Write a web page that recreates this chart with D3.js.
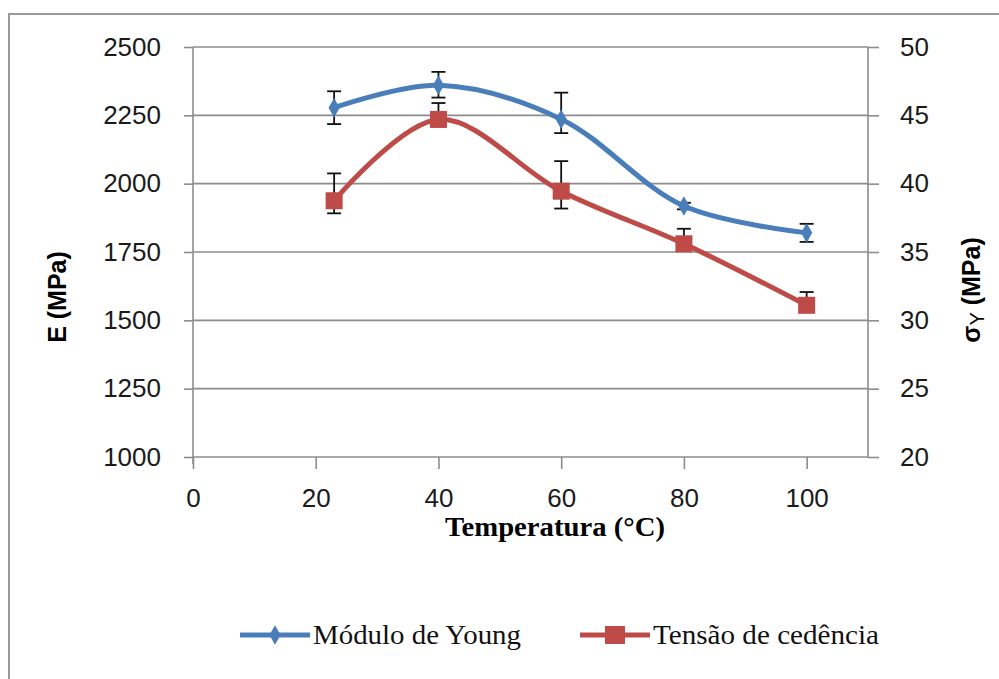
<!DOCTYPE html>
<html>
<head>
<meta charset="utf-8">
<script src="https://cdn.jsdelivr.net/npm/d3@7"></script>
<style>
  body { margin: 0; background: #fff; }
  svg { display: block; }
</style>
</head>
<body>
<div id="chart"></div>
<script>
// Temperature vs Young's modulus and yield stress

const temps = [23, 40, 60, 80, 100];
const youngE = [2278, 2360, 2236, 1918, 1820];       // MPa (left axis)
const youngErrUp = [60, 49, 97, 12, 33];
const youngErrDown = [60, 45, 51, 12, 33];
const yieldS = [38.75, 44.7, 39.45, 35.6, 31.1];     // MPa (right axis)
const yieldErrUp = [2.0, 1.2, 2.2, 1.1, 0.97];
const yieldErrDown = [0.92, 0.5, 1.27, 0.5, 0.5];

const xTicks = [0, 20, 40, 60, 80, 100];
const leftTicks = [1000, 1250, 1500, 1750, 2000, 2250, 2500];
const rightTicks = [20, 25, 30, 35, 40, 45, 50];
const seriesNames = ["Módulo de Young", "Tensão de cedência"];

const width = 999, height = 679;
const plot = { left: 193, right: 868, top: 47, bottom: 457 };

const blue = "#4a7ebb", red = "#be4b48", gridCol = "#8c8c8c";

const svg = d3.select("#chart")
  .append("svg")
    .attr("width", width)
    .attr("height", height);

// outer frame (runs off the right and bottom)
svg.append("rect")
  .attr("x", 9).attr("y", 14)
  .attr("width", 1100).attr("height", 800)
  .attr("fill", "none")
  .attr("stroke", "#9a9a9a")
  .attr("stroke-width", 2);

const x = d3.scaleLinear().domain([0, 110]).range([plot.left, plot.right]);
const yL = d3.scaleLinear().domain([1000, 2500]).range([plot.bottom, plot.top]);
const yR = d3.scaleLinear().domain([20, 50]).range([plot.bottom, plot.top]);

// gridlines
svg.append("g")
  .selectAll("line")
  .data(leftTicks.slice(1))
  .enter()
  .append("line")
    .attr("x1", plot.left).attr("x2", plot.right)
    .attr("y1", d => yL(d)).attr("y2", d => yL(d))
    .attr("stroke", gridCol)
    .attr("stroke-width", 1.6);

const tickFont = "'Liberation Sans', Arial, sans-serif";
const serif = "'Liberation Serif', 'Times New Roman', serif";

// Left axis
const leftAxis = svg.append("g")
  .attr("transform", `translate(${plot.left},0)`)
  .call(d3.axisLeft(yL).tickValues(leftTicks).tickSize(9).tickPadding(23).tickFormat(d3.format("d")));

// Right axis
const rightAxis = svg.append("g")
  .attr("transform", `translate(${plot.right},0)`)
  .call(d3.axisRight(yR).tickValues(rightTicks).tickSize(11).tickPadding(21).tickFormat(d3.format("d")));

// Bottom axis
const bottomAxis = svg.append("g")
  .attr("transform", `translate(0,${plot.bottom})`)
  .call(d3.axisBottom(x).tickValues(xTicks).tickSize(12).tickPadding(20).tickFormat(d3.format("d")));

[leftAxis, rightAxis, bottomAxis].forEach(g => {
  g.select(".domain").attr("stroke", gridCol).attr("stroke-width", 1.6);
  g.selectAll(".tick line").attr("stroke", gridCol).attr("stroke-width", 1.6);
  g.selectAll(".tick text")
    .attr("fill", "#1a1a1a")
    .style("font-family", tickFont)
    .style("font-size", "26px");
});
// domain lines without the outer tick ends
leftAxis.select(".domain").attr("d", `M0,${plot.top}V${plot.bottom + 7}`);
rightAxis.select(".domain").attr("d", `M0,${plot.top}V${plot.bottom}`);
bottomAxis.select(".domain").attr("d", `M${plot.left},0H${plot.right}`);

// Axis titles
svg.append("text")
  .attr("transform", `translate(66,${(plot.top + plot.bottom) / 2 + 45}) rotate(-90)`)
  .attr("text-anchor", "middle")
  .style("font-family", tickFont)
  .style("font-weight", "bold")
  .style("font-size", "25px")
  .text("E (MPa)");

const rt = svg.append("text")
  .attr("transform", `translate(980,${(plot.top + plot.bottom) / 2 + 38}) rotate(-90)`)
  .attr("text-anchor", "middle")
  .style("font-family", tickFont)
  .style("font-weight", "bold")
  .style("font-size", "25px");
rt.append("tspan").text("σ");
rt.append("tspan").attr("dy", 4).style("font-size", "20px").style("font-weight", "normal").text("Y");
rt.append("tspan").attr("dy", -4).text(" (MPa)");

svg.append("text")
  .attr("x", 555)
  .attr("y", 536)
  .attr("text-anchor", "middle")
  .attr("textLength", 220)
  .attr("lengthAdjust", "spacingAndGlyphs")
  .style("font-family", serif)
  .style("font-weight", "bold")
  .style("font-size", "28px")
  .text("Temperatura (°C)");

// Data series
const youngData = temps.map((t, i) => ({ t, v: youngE[i], up: youngErrUp[i], dn: youngErrDown[i] }));
const yieldData = temps.map((t, i) => ({ t, v: yieldS[i], up: yieldErrUp[i], dn: yieldErrDown[i] }));

function errorBars(data, y) {
  const g = svg.append("g").attr("stroke", "#111").attr("stroke-width", 1.8);
  data.forEach(d => {
    const xx = x(d.t), y0 = y(d.v - d.dn), y1 = y(d.v + d.up);
    g.append("line").attr("x1", xx).attr("x2", xx).attr("y1", y0).attr("y2", y1);
    g.append("line").attr("x1", xx - 7).attr("x2", xx + 7).attr("y1", y0).attr("y2", y0);
    g.append("line").attr("x1", xx - 7).attr("x2", xx + 7).attr("y1", y1).attr("y2", y1);
  });
}
errorBars(youngData, yL);
errorBars(yieldData, yR);

const lineYoung = d3.line().x(d => x(d.t)).y(d => yL(d.v)).curve(d3.curveCatmullRom.alpha(0.5));
const lineYield = d3.line().x(d => x(d.t)).y(d => yR(d.v)).curve(d3.curveCatmullRom.alpha(0.5));

svg.append("path")
  .datum(youngData)
  .attr("d", lineYoung)
  .attr("fill", "none")
  .attr("stroke", blue)
  .attr("stroke-width", 5)
  .attr("stroke-linejoin", "round");

svg.append("path")
  .datum(yieldData)
  .attr("d", lineYield)
  .attr("fill", "none")
  .attr("stroke", red)
  .attr("stroke-width", 5)
  .attr("stroke-linejoin", "round");

const diamond = d3.symbol().type(d3.symbolDiamond).size(110);

svg.append("g")
  .selectAll("path")
  .data(youngData)
  .enter()
  .append("path")
    .attr("d", diamond)
    .attr("transform", d => `translate(${x(d.t)},${yL(d.v)})`)
    .attr("fill", blue);

svg.append("g")
  .selectAll("rect")
  .data(yieldData)
  .enter()
  .append("rect")
    .attr("x", d => x(d.t) - 8.5)
    .attr("y", d => yR(d.v) - 8.5)
    .attr("width", 17)
    .attr("height", 17)
    .attr("fill", red);

// Legend
const legend = svg.append("g").attr("transform", "translate(0,635)");
const legendItems = [
  { name: seriesNames[0], color: blue, x0: 240, shape: "diamond", len: 208 },
  { name: seriesNames[1], color: red, x0: 580, shape: "square", len: 226 }
];
legendItems.forEach(it => {
  legend.append("line")
    .attr("x1", it.x0).attr("x2", it.x0 + 70)
    .attr("y1", 0).attr("y2", 0)
    .attr("stroke", it.color).attr("stroke-width", 5);
  if (it.shape === "diamond") {
    legend.append("path").attr("d", diamond).attr("transform", `translate(${it.x0 + 35},0)`).attr("fill", it.color);
  } else {
    legend.append("rect").attr("x", it.x0 + 25).attr("y", -9).attr("width", 20).attr("height", 18).attr("fill", it.color);
  }
  legend.append("text")
    .attr("x", it.x0 + 73)
    .attr("y", 9)
    .attr("textLength", it.len)
    .attr("lengthAdjust", "spacingAndGlyphs")
    .style("font-family", serif)
    .style("font-size", "27px")
    .attr("fill", "#111")
    .text(it.name);
});
</script>
</body>
</html>
